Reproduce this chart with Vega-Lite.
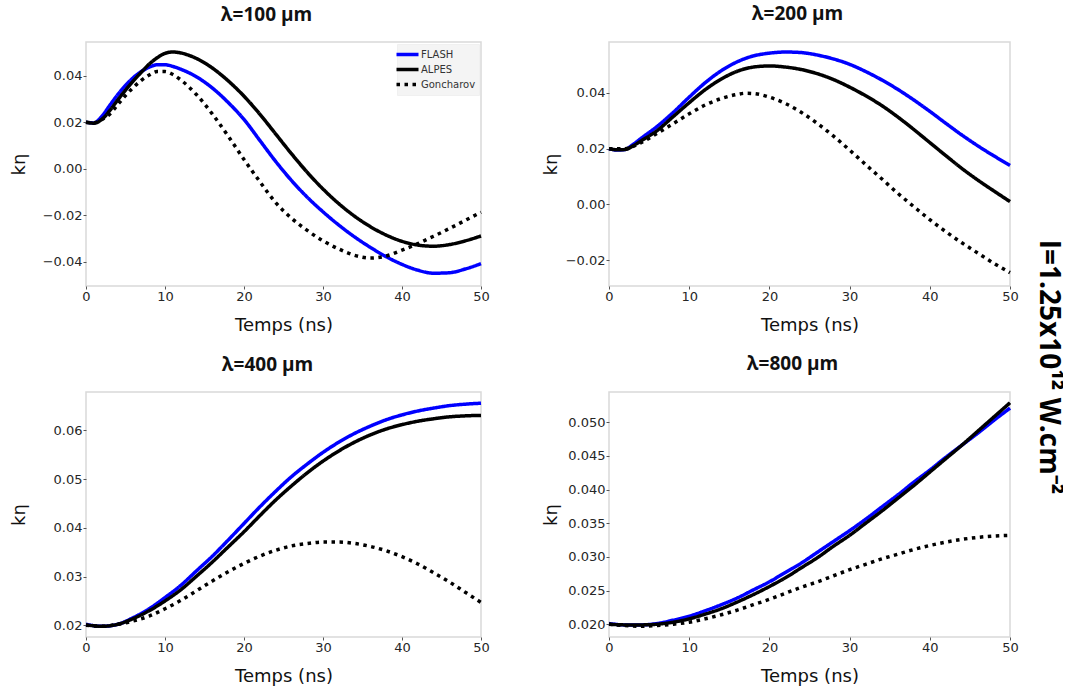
{
"$schema": "https://vega.github.io/schema/vega-lite/v6.json",
"background": "white",
"padding": {"left": 9, "top": 4, "right": 0, "bottom": 0},
"title": {"text": "I=1.25x10¹² W.cm⁻²", "orient": "right", "anchor": "middle", "font": "Open Sans", "fontSize": 28, "fontWeight": "bold", "color": "#000000", "offset": 15, "dx": 22},
"datasets": {"d": [
{"p":1,"s":"FLASH","t":0,"k":0.0200},{"p":1,"s":"FLASH","t":1,"k":0.0197},{"p":1,"s":"FLASH","t":2,"k":0.0225},{"p":1,"s":"FLASH","t":3,"k":0.0272},{"p":1,"s":"FLASH","t":4,"k":0.0318},{"p":1,"s":"FLASH","t":5,"k":0.0358},{"p":1,"s":"FLASH","t":6,"k":0.0392},{"p":1,"s":"FLASH","t":7,"k":0.0418},{"p":1,"s":"FLASH","t":8,"k":0.0437},{"p":1,"s":"FLASH","t":9,"k":0.0447},{"p":1,"s":"FLASH","t":10,"k":0.0447},{"p":1,"s":"FLASH","t":11,"k":0.0440},{"p":1,"s":"FLASH","t":12,"k":0.0428},{"p":1,"s":"FLASH","t":14,"k":0.0395},{"p":1,"s":"FLASH","t":16,"k":0.0347},{"p":1,"s":"FLASH","t":18,"k":0.0285},{"p":1,"s":"FLASH","t":20,"k":0.0212},{"p":1,"s":"FLASH","t":22,"k":0.0122},{"p":1,"s":"FLASH","t":24,"k":0.0032},{"p":1,"s":"FLASH","t":26,"k":-0.0050},{"p":1,"s":"FLASH","t":28,"k":-0.0122},{"p":1,"s":"FLASH","t":30,"k":-0.0185},{"p":1,"s":"FLASH","t":32,"k":-0.0242},{"p":1,"s":"FLASH","t":34,"k":-0.0293},{"p":1,"s":"FLASH","t":36,"k":-0.0338},{"p":1,"s":"FLASH","t":38,"k":-0.0378},{"p":1,"s":"FLASH","t":40,"k":-0.0411},{"p":1,"s":"FLASH","t":42,"k":-0.0436},{"p":1,"s":"FLASH","t":44,"k":-0.0449},{"p":1,"s":"FLASH","t":46,"k":-0.0447},{"p":1,"s":"FLASH","t":48,"k":-0.0431},{"p":1,"s":"FLASH","t":50,"k":-0.0408},
{"p":1,"s":"ALPES","t":0,"k":0.0200},{"p":1,"s":"ALPES","t":1,"k":0.0196},{"p":1,"s":"ALPES","t":2,"k":0.0212},{"p":1,"s":"ALPES","t":3,"k":0.0250},{"p":1,"s":"ALPES","t":4,"k":0.0295},{"p":1,"s":"ALPES","t":5,"k":0.0338},{"p":1,"s":"ALPES","t":6,"k":0.0378},{"p":1,"s":"ALPES","t":7,"k":0.0415},{"p":1,"s":"ALPES","t":8,"k":0.0450},{"p":1,"s":"ALPES","t":9,"k":0.0477},{"p":1,"s":"ALPES","t":10,"k":0.0496},{"p":1,"s":"ALPES","t":11,"k":0.0502},{"p":1,"s":"ALPES","t":12,"k":0.0498},{"p":1,"s":"ALPES","t":13,"k":0.0488},{"p":1,"s":"ALPES","t":14,"k":0.0474},{"p":1,"s":"ALPES","t":16,"k":0.0433},{"p":1,"s":"ALPES","t":18,"k":0.0378},{"p":1,"s":"ALPES","t":20,"k":0.0312},{"p":1,"s":"ALPES","t":22,"k":0.0235},{"p":1,"s":"ALPES","t":24,"k":0.0150},{"p":1,"s":"ALPES","t":26,"k":0.0065},{"p":1,"s":"ALPES","t":28,"k":-0.0015},{"p":1,"s":"ALPES","t":30,"k":-0.0087},{"p":1,"s":"ALPES","t":32,"k":-0.0150},{"p":1,"s":"ALPES","t":34,"k":-0.0204},{"p":1,"s":"ALPES","t":36,"k":-0.0249},{"p":1,"s":"ALPES","t":38,"k":-0.0285},{"p":1,"s":"ALPES","t":40,"k":-0.0312},{"p":1,"s":"ALPES","t":42,"k":-0.0328},{"p":1,"s":"ALPES","t":44,"k":-0.0333},{"p":1,"s":"ALPES","t":46,"k":-0.0326},{"p":1,"s":"ALPES","t":48,"k":-0.0310},{"p":1,"s":"ALPES","t":50,"k":-0.0289},
{"p":1,"s":"Goncharov","t":0,"k":0.0200},{"p":1,"s":"Goncharov","t":1,"k":0.0198},{"p":1,"s":"Goncharov","t":2,"k":0.0212},{"p":1,"s":"Goncharov","t":3,"k":0.0235},{"p":1,"s":"Goncharov","t":4,"k":0.0275},{"p":1,"s":"Goncharov","t":5,"k":0.0315},{"p":1,"s":"Goncharov","t":6,"k":0.0350},{"p":1,"s":"Goncharov","t":7,"k":0.0380},{"p":1,"s":"Goncharov","t":8,"k":0.0403},{"p":1,"s":"Goncharov","t":9,"k":0.0418},{"p":1,"s":"Goncharov","t":10,"k":0.0418},{"p":1,"s":"Goncharov","t":11,"k":0.0405},{"p":1,"s":"Goncharov","t":12,"k":0.0382},{"p":1,"s":"Goncharov","t":14,"k":0.0318},{"p":1,"s":"Goncharov","t":16,"k":0.0235},{"p":1,"s":"Goncharov","t":18,"k":0.0140},{"p":1,"s":"Goncharov","t":20,"k":0.0040},{"p":1,"s":"Goncharov","t":22,"k":-0.0055},{"p":1,"s":"Goncharov","t":24,"k":-0.0145},{"p":1,"s":"Goncharov","t":26,"k":-0.0212},{"p":1,"s":"Goncharov","t":28,"k":-0.0265},{"p":1,"s":"Goncharov","t":30,"k":-0.0310},{"p":1,"s":"Goncharov","t":32,"k":-0.0345},{"p":1,"s":"Goncharov","t":34,"k":-0.0372},{"p":1,"s":"Goncharov","t":36,"k":-0.0384},{"p":1,"s":"Goncharov","t":38,"k":-0.0375},{"p":1,"s":"Goncharov","t":40,"k":-0.0350},{"p":1,"s":"Goncharov","t":42,"k":-0.0322},{"p":1,"s":"Goncharov","t":44,"k":-0.0290},{"p":1,"s":"Goncharov","t":46,"k":-0.0257},{"p":1,"s":"Goncharov","t":48,"k":-0.0222},{"p":1,"s":"Goncharov","t":50,"k":-0.0187},
{"p":2,"s":"FLASH","t":0,"k":0.0200},{"p":2,"s":"FLASH","t":1,"k":0.0195},{"p":2,"s":"FLASH","t":2,"k":0.0197},{"p":2,"s":"FLASH","t":3,"k":0.0215},{"p":2,"s":"FLASH","t":4,"k":0.0237},{"p":2,"s":"FLASH","t":6,"k":0.0280},{"p":2,"s":"FLASH","t":8,"k":0.0330},{"p":2,"s":"FLASH","t":10,"k":0.0385},{"p":2,"s":"FLASH","t":12,"k":0.0437},{"p":2,"s":"FLASH","t":14,"k":0.0480},{"p":2,"s":"FLASH","t":16,"k":0.0512},{"p":2,"s":"FLASH","t":18,"k":0.0533},{"p":2,"s":"FLASH","t":20,"k":0.0543},{"p":2,"s":"FLASH","t":22,"k":0.0547},{"p":2,"s":"FLASH","t":24,"k":0.0545},{"p":2,"s":"FLASH","t":26,"k":0.0536},{"p":2,"s":"FLASH","t":28,"k":0.0522},{"p":2,"s":"FLASH","t":30,"k":0.0503},{"p":2,"s":"FLASH","t":32,"k":0.0477},{"p":2,"s":"FLASH","t":34,"k":0.0447},{"p":2,"s":"FLASH","t":36,"k":0.0413},{"p":2,"s":"FLASH","t":38,"k":0.0375},{"p":2,"s":"FLASH","t":40,"k":0.0334},{"p":2,"s":"FLASH","t":42,"k":0.0291},{"p":2,"s":"FLASH","t":44,"k":0.0249},{"p":2,"s":"FLASH","t":46,"k":0.0210},{"p":2,"s":"FLASH","t":48,"k":0.0174},{"p":2,"s":"FLASH","t":50,"k":0.0140},
{"p":2,"s":"ALPES","t":0,"k":0.0200},{"p":2,"s":"ALPES","t":1,"k":0.0196},{"p":2,"s":"ALPES","t":2,"k":0.0197},{"p":2,"s":"ALPES","t":3,"k":0.0210},{"p":2,"s":"ALPES","t":4,"k":0.0228},{"p":2,"s":"ALPES","t":6,"k":0.0265},{"p":2,"s":"ALPES","t":8,"k":0.0315},{"p":2,"s":"ALPES","t":10,"k":0.0365},{"p":2,"s":"ALPES","t":12,"k":0.0412},{"p":2,"s":"ALPES","t":14,"k":0.0450},{"p":2,"s":"ALPES","t":16,"k":0.0478},{"p":2,"s":"ALPES","t":18,"k":0.0493},{"p":2,"s":"ALPES","t":20,"k":0.0497},{"p":2,"s":"ALPES","t":22,"k":0.0493},{"p":2,"s":"ALPES","t":24,"k":0.0484},{"p":2,"s":"ALPES","t":26,"k":0.0469},{"p":2,"s":"ALPES","t":28,"k":0.0448},{"p":2,"s":"ALPES","t":30,"k":0.0421},{"p":2,"s":"ALPES","t":32,"k":0.0390},{"p":2,"s":"ALPES","t":34,"k":0.0355},{"p":2,"s":"ALPES","t":36,"k":0.0314},{"p":2,"s":"ALPES","t":38,"k":0.0269},{"p":2,"s":"ALPES","t":40,"k":0.0222},{"p":2,"s":"ALPES","t":42,"k":0.0175},{"p":2,"s":"ALPES","t":44,"k":0.0129},{"p":2,"s":"ALPES","t":46,"k":0.0087},{"p":2,"s":"ALPES","t":48,"k":0.0048},{"p":2,"s":"ALPES","t":50,"k":0.0010},
{"p":2,"s":"Goncharov","t":0,"k":0.0200},{"p":2,"s":"Goncharov","t":2,"k":0.0200},{"p":2,"s":"Goncharov","t":4,"k":0.0222},{"p":2,"s":"Goncharov","t":6,"k":0.0255},{"p":2,"s":"Goncharov","t":8,"k":0.0290},{"p":2,"s":"Goncharov","t":10,"k":0.0325},{"p":2,"s":"Goncharov","t":12,"k":0.0357},{"p":2,"s":"Goncharov","t":14,"k":0.0380},{"p":2,"s":"Goncharov","t":16,"k":0.0395},{"p":2,"s":"Goncharov","t":17,"k":0.0399},{"p":2,"s":"Goncharov","t":18,"k":0.0398},{"p":2,"s":"Goncharov","t":20,"k":0.0385},{"p":2,"s":"Goncharov","t":22,"k":0.0362},{"p":2,"s":"Goncharov","t":24,"k":0.0330},{"p":2,"s":"Goncharov","t":26,"k":0.0290},{"p":2,"s":"Goncharov","t":28,"k":0.0245},{"p":2,"s":"Goncharov","t":30,"k":0.0195},{"p":2,"s":"Goncharov","t":32,"k":0.0143},{"p":2,"s":"Goncharov","t":34,"k":0.0092},{"p":2,"s":"Goncharov","t":36,"k":0.0040},{"p":2,"s":"Goncharov","t":38,"k":-0.0008},{"p":2,"s":"Goncharov","t":40,"k":-0.0055},{"p":2,"s":"Goncharov","t":42,"k":-0.0098},{"p":2,"s":"Goncharov","t":44,"k":-0.0138},{"p":2,"s":"Goncharov","t":46,"k":-0.0175},{"p":2,"s":"Goncharov","t":48,"k":-0.0212},{"p":2,"s":"Goncharov","t":50,"k":-0.0245},
{"p":3,"s":"FLASH","t":0,"k":0.0202},{"p":3,"s":"FLASH","t":2,"k":0.0198},{"p":3,"s":"FLASH","t":4,"k":0.0202},{"p":3,"s":"FLASH","t":6,"k":0.0216},{"p":3,"s":"FLASH","t":8,"k":0.0234},{"p":3,"s":"FLASH","t":10,"k":0.0257},{"p":3,"s":"FLASH","t":12,"k":0.0282},{"p":3,"s":"FLASH","t":14,"k":0.0312},{"p":3,"s":"FLASH","t":16,"k":0.0342},{"p":3,"s":"FLASH","t":18,"k":0.0375},{"p":3,"s":"FLASH","t":20,"k":0.0409},{"p":3,"s":"FLASH","t":22,"k":0.0443},{"p":3,"s":"FLASH","t":24,"k":0.0475},{"p":3,"s":"FLASH","t":26,"k":0.0505},{"p":3,"s":"FLASH","t":28,"k":0.0531},{"p":3,"s":"FLASH","t":30,"k":0.0555},{"p":3,"s":"FLASH","t":32,"k":0.0576},{"p":3,"s":"FLASH","t":34,"k":0.0594},{"p":3,"s":"FLASH","t":36,"k":0.0609},{"p":3,"s":"FLASH","t":38,"k":0.0622},{"p":3,"s":"FLASH","t":40,"k":0.0632},{"p":3,"s":"FLASH","t":42,"k":0.0640},{"p":3,"s":"FLASH","t":44,"k":0.0646},{"p":3,"s":"FLASH","t":46,"k":0.0651},{"p":3,"s":"FLASH","t":48,"k":0.0654},{"p":3,"s":"FLASH","t":50,"k":0.0656},
{"p":3,"s":"ALPES","t":0,"k":0.0201},{"p":3,"s":"ALPES","t":2,"k":0.0198},{"p":3,"s":"ALPES","t":4,"k":0.0202},{"p":3,"s":"ALPES","t":6,"k":0.0214},{"p":3,"s":"ALPES","t":8,"k":0.0230},{"p":3,"s":"ALPES","t":10,"k":0.0250},{"p":3,"s":"ALPES","t":12,"k":0.0273},{"p":3,"s":"ALPES","t":14,"k":0.0301},{"p":3,"s":"ALPES","t":16,"k":0.0330},{"p":3,"s":"ALPES","t":18,"k":0.0361},{"p":3,"s":"ALPES","t":20,"k":0.0392},{"p":3,"s":"ALPES","t":22,"k":0.0425},{"p":3,"s":"ALPES","t":24,"k":0.0457},{"p":3,"s":"ALPES","t":26,"k":0.0486},{"p":3,"s":"ALPES","t":28,"k":0.0513},{"p":3,"s":"ALPES","t":30,"k":0.0537},{"p":3,"s":"ALPES","t":32,"k":0.0558},{"p":3,"s":"ALPES","t":34,"k":0.0576},{"p":3,"s":"ALPES","t":36,"k":0.0591},{"p":3,"s":"ALPES","t":38,"k":0.0603},{"p":3,"s":"ALPES","t":40,"k":0.0612},{"p":3,"s":"ALPES","t":42,"k":0.0619},{"p":3,"s":"ALPES","t":44,"k":0.0624},{"p":3,"s":"ALPES","t":46,"k":0.0628},{"p":3,"s":"ALPES","t":48,"k":0.0630},{"p":3,"s":"ALPES","t":50,"k":0.0631},
{"p":3,"s":"Goncharov","t":0,"k":0.0200},{"p":3,"s":"Goncharov","t":2,"k":0.0198},{"p":3,"s":"Goncharov","t":4,"k":0.0202},{"p":3,"s":"Goncharov","t":6,"k":0.0209},{"p":3,"s":"Goncharov","t":8,"k":0.0219},{"p":3,"s":"Goncharov","t":10,"k":0.0234},{"p":3,"s":"Goncharov","t":12,"k":0.0251},{"p":3,"s":"Goncharov","t":14,"k":0.0271},{"p":3,"s":"Goncharov","t":16,"k":0.0291},{"p":3,"s":"Goncharov","t":18,"k":0.0310},{"p":3,"s":"Goncharov","t":20,"k":0.0327},{"p":3,"s":"Goncharov","t":22,"k":0.0342},{"p":3,"s":"Goncharov","t":24,"k":0.0354},{"p":3,"s":"Goncharov","t":26,"k":0.0363},{"p":3,"s":"Goncharov","t":28,"k":0.0368},{"p":3,"s":"Goncharov","t":30,"k":0.0371},{"p":3,"s":"Goncharov","t":32,"k":0.0371},{"p":3,"s":"Goncharov","t":34,"k":0.0368},{"p":3,"s":"Goncharov","t":36,"k":0.0362},{"p":3,"s":"Goncharov","t":38,"k":0.0353},{"p":3,"s":"Goncharov","t":40,"k":0.0341},{"p":3,"s":"Goncharov","t":42,"k":0.0326},{"p":3,"s":"Goncharov","t":44,"k":0.0308},{"p":3,"s":"Goncharov","t":46,"k":0.0289},{"p":3,"s":"Goncharov","t":48,"k":0.0268},{"p":3,"s":"Goncharov","t":50,"k":0.0247},
{"p":4,"s":"FLASH","t":0,"k":0.0201},{"p":4,"s":"FLASH","t":2,"k":0.0199},{"p":4,"s":"FLASH","t":4,"k":0.0199},{"p":4,"s":"FLASH","t":6,"k":0.0201},{"p":4,"s":"FLASH","t":8,"k":0.0206},{"p":4,"s":"FLASH","t":10,"k":0.0212},{"p":4,"s":"FLASH","t":12,"k":0.0220},{"p":4,"s":"FLASH","t":14,"k":0.0229},{"p":4,"s":"FLASH","t":16,"k":0.0239},{"p":4,"s":"FLASH","t":18,"k":0.0251},{"p":4,"s":"FLASH","t":20,"k":0.0263},{"p":4,"s":"FLASH","t":22,"k":0.0277},{"p":4,"s":"FLASH","t":24,"k":0.0291},{"p":4,"s":"FLASH","t":26,"k":0.0307},{"p":4,"s":"FLASH","t":28,"k":0.0323},{"p":4,"s":"FLASH","t":30,"k":0.0339},{"p":4,"s":"FLASH","t":32,"k":0.0356},{"p":4,"s":"FLASH","t":34,"k":0.0374},{"p":4,"s":"FLASH","t":36,"k":0.0392},{"p":4,"s":"FLASH","t":38,"k":0.0411},{"p":4,"s":"FLASH","t":40,"k":0.0429},{"p":4,"s":"FLASH","t":42,"k":0.0448},{"p":4,"s":"FLASH","t":44,"k":0.0466},{"p":4,"s":"FLASH","t":46,"k":0.0484},{"p":4,"s":"FLASH","t":48,"k":0.0503},{"p":4,"s":"FLASH","t":50,"k":0.0521},
{"p":4,"s":"ALPES","t":0,"k":0.0200},{"p":4,"s":"ALPES","t":2,"k":0.0199},{"p":4,"s":"ALPES","t":4,"k":0.0199},{"p":4,"s":"ALPES","t":6,"k":0.0200},{"p":4,"s":"ALPES","t":8,"k":0.0203},{"p":4,"s":"ALPES","t":10,"k":0.0208},{"p":4,"s":"ALPES","t":12,"k":0.0215},{"p":4,"s":"ALPES","t":14,"k":0.0223},{"p":4,"s":"ALPES","t":16,"k":0.0233},{"p":4,"s":"ALPES","t":18,"k":0.0244},{"p":4,"s":"ALPES","t":20,"k":0.0256},{"p":4,"s":"ALPES","t":22,"k":0.0269},{"p":4,"s":"ALPES","t":24,"k":0.0284},{"p":4,"s":"ALPES","t":26,"k":0.0299},{"p":4,"s":"ALPES","t":28,"k":0.0316},{"p":4,"s":"ALPES","t":30,"k":0.0332},{"p":4,"s":"ALPES","t":32,"k":0.0350},{"p":4,"s":"ALPES","t":34,"k":0.0368},{"p":4,"s":"ALPES","t":36,"k":0.0387},{"p":4,"s":"ALPES","t":38,"k":0.0406},{"p":4,"s":"ALPES","t":40,"k":0.0426},{"p":4,"s":"ALPES","t":42,"k":0.0446},{"p":4,"s":"ALPES","t":44,"k":0.0466},{"p":4,"s":"ALPES","t":46,"k":0.0487},{"p":4,"s":"ALPES","t":48,"k":0.0508},{"p":4,"s":"ALPES","t":50,"k":0.0529},
{"p":4,"s":"Goncharov","t":0,"k":0.0200},{"p":4,"s":"Goncharov","t":2,"k":0.0198},{"p":4,"s":"Goncharov","t":4,"k":0.0197},{"p":4,"s":"Goncharov","t":6,"k":0.0198},{"p":4,"s":"Goncharov","t":8,"k":0.0200},{"p":4,"s":"Goncharov","t":10,"k":0.0203},{"p":4,"s":"Goncharov","t":12,"k":0.0208},{"p":4,"s":"Goncharov","t":14,"k":0.0214},{"p":4,"s":"Goncharov","t":16,"k":0.0221},{"p":4,"s":"Goncharov","t":18,"k":0.0229},{"p":4,"s":"Goncharov","t":20,"k":0.0237},{"p":4,"s":"Goncharov","t":22,"k":0.0246},{"p":4,"s":"Goncharov","t":24,"k":0.0255},{"p":4,"s":"Goncharov","t":26,"k":0.0263},{"p":4,"s":"Goncharov","t":28,"k":0.0272},{"p":4,"s":"Goncharov","t":30,"k":0.0281},{"p":4,"s":"Goncharov","t":32,"k":0.0289},{"p":4,"s":"Goncharov","t":34,"k":0.0297},{"p":4,"s":"Goncharov","t":36,"k":0.0304},{"p":4,"s":"Goncharov","t":38,"k":0.0311},{"p":4,"s":"Goncharov","t":40,"k":0.0317},{"p":4,"s":"Goncharov","t":42,"k":0.0322},{"p":4,"s":"Goncharov","t":44,"k":0.0326},{"p":4,"s":"Goncharov","t":46,"k":0.0329},{"p":4,"s":"Goncharov","t":48,"k":0.0331},{"p":4,"s":"Goncharov","t":50,"k":0.0332}
]},
"columns": 2,
"align": "each",
"spacing": {"row": 19, "column": 50},
"resolve": {"legend": {"color": "independent", "strokeDash": "independent"}},
"concat": [
{"width": 395, "height": 244, "data": {"name": "d"},
 "title": {"text": "λ=100 µm", "dx": -17, "offset": 17},
 "transform": [{"filter": "datum.p == 1"}],
 "mark": {"type": "line", "strokeWidth": 3.5, "interpolate": "monotone", "strokeCap": "butt"},
 "encoding": {
  "x": {"field": "t", "type": "quantitative", "scale": {"domain": [0, 50], "nice": false}, "axis": {"values": [0, 10, 20, 30, 40, 50], "title": "Temps (ns)"}},
  "y": {"field": "k", "type": "quantitative", "scale": {"domain": [-0.0504, 0.0545], "nice": false, "zero": false}, "axis": {"values": [-0.04, -0.02, 0, 0.02, 0.04], "format": ".2f", "title": "kη", "titlePadding": 13}},
  "color": {"field": "s", "type": "nominal", "sort": ["FLASH", "ALPES", "Goncharov"], "scale": {"domain": ["FLASH", "ALPES", "Goncharov"], "range": ["#0000ff", "#000000", "#000000"]},
   "legend": {"title": null, "orient": "top-right", "offset": 2, "fillColor": "#f4f4f4", "strokeColor": "#f0f0f0", "padding": 3, "symbolType": "M-2,0H2", "symbolSize": 121, "symbolStrokeWidth": 3.5, "symbolFillColor": "transparent", "labelFont": "DejaVu Sans", "labelFontSize": 10, "labelColor": "#333333", "rowPadding": 0, "labelOffset": 6}},
  "strokeDash": {"field": "s", "type": "nominal", "sort": ["FLASH", "ALPES", "Goncharov"], "scale": {"domain": ["FLASH", "ALPES", "Goncharov"], "range": [[1, 0], [1, 0], [3.5, 4.5]]},
   "legend": {"title": null, "orient": "top-right", "offset": 2, "fillColor": "#f4f4f4", "strokeColor": "#f0f0f0", "padding": 3, "symbolType": "M-2,0H2", "symbolSize": 121, "symbolStrokeWidth": 3.5, "symbolFillColor": "transparent", "labelFont": "DejaVu Sans", "labelFontSize": 10, "labelColor": "#333333", "rowPadding": 0, "labelOffset": 6}}
 }},
{"width": 401, "height": 244, "data": {"name": "d"},
 "title": {"text": "λ=200 µm", "dx": -12, "offset": 18},
 "transform": [{"filter": "datum.p == 2"}],
 "mark": {"type": "line", "strokeWidth": 3.5, "interpolate": "monotone", "strokeCap": "butt"},
 "encoding": {
  "x": {"field": "t", "type": "quantitative", "scale": {"domain": [0, 50], "nice": false}, "axis": {"values": [0, 10, 20, 30, 40, 50], "title": "Temps (ns)"}},
  "y": {"field": "k", "type": "quantitative", "scale": {"domain": [-0.0293, 0.0583], "nice": false, "zero": false}, "axis": {"values": [-0.02, 0, 0.02, 0.04], "format": ".2f", "title": "kη", "titlePadding": 4}},
  "color": {"field": "s", "type": "nominal", "scale": {"domain": ["FLASH", "ALPES", "Goncharov"], "range": ["#0000ff", "#000000", "#000000"]}, "legend": null},
  "strokeDash": {"field": "s", "type": "nominal", "scale": {"domain": ["FLASH", "ALPES", "Goncharov"], "range": [[1, 0], [1, 0], [3.5, 4.5]]}, "legend": null}
 }},
{"width": 395, "height": 245, "data": {"name": "d"},
 "title": {"text": "λ=400 µm", "dx": -16, "offset": 17},
 "transform": [{"filter": "datum.p == 3"}],
 "mark": {"type": "line", "strokeWidth": 3.5, "interpolate": "monotone", "strokeCap": "butt"},
 "encoding": {
  "x": {"field": "t", "type": "quantitative", "scale": {"domain": [0, 50], "nice": false}, "axis": {"values": [0, 10, 20, 30, 40, 50], "title": "Temps (ns)"}},
  "y": {"field": "k", "type": "quantitative", "scale": {"domain": [0.0176, 0.0679], "nice": false, "zero": false}, "axis": {"values": [0.02, 0.03, 0.04, 0.05, 0.06], "format": ".2f", "title": "kη", "titlePadding": 13}},
  "color": {"field": "s", "type": "nominal", "scale": {"domain": ["FLASH", "ALPES", "Goncharov"], "range": ["#0000ff", "#000000", "#000000"]}, "legend": null},
  "strokeDash": {"field": "s", "type": "nominal", "scale": {"domain": ["FLASH", "ALPES", "Goncharov"], "range": [[1, 0], [1, 0], [3.5, 4.5]]}, "legend": null}
 }},
{"width": 401, "height": 245, "data": {"name": "d"},
 "title": {"text": "λ=800 µm", "dx": -17, "offset": 18},
 "transform": [{"filter": "datum.p == 4"}],
 "mark": {"type": "line", "strokeWidth": 3.5, "interpolate": "monotone", "strokeCap": "butt"},
 "encoding": {
  "x": {"field": "t", "type": "quantitative", "scale": {"domain": [0, 50], "nice": false}, "axis": {"values": [0, 10, 20, 30, 40, 50], "title": "Temps (ns)"}},
  "y": {"field": "k", "type": "quantitative", "scale": {"domain": [0.0181, 0.0545], "nice": false, "zero": false}, "axis": {"values": [0.02, 0.025, 0.03, 0.035, 0.04, 0.045, 0.05], "format": ".3f", "title": "kη", "titlePadding": 4}},
  "color": {"field": "s", "type": "nominal", "scale": {"domain": ["FLASH", "ALPES", "Goncharov"], "range": ["#0000ff", "#000000", "#000000"]}, "legend": null},
  "strokeDash": {"field": "s", "type": "nominal", "scale": {"domain": ["FLASH", "ALPES", "Goncharov"], "range": [[1, 0], [1, 0], [3.5, 4.5]]}, "legend": null}
 }}
],
"config": {
 "font": "DejaVu Sans",
 "view": {"stroke": "#d9d9d9", "strokeWidth": 1.5},
 "axis": {"domain": false, "grid": false, "ticks": true, "tickSize": 3, "tickColor": "#555555", "labelFont": "DejaVu Sans", "labelFontSize": 13, "labelColor": "#262626", "labelPadding": 1, "labelFlush": false, "titleFont": "DejaVu Sans", "titleFontSize": 18, "titleFontWeight": "normal", "titleColor": "#111111"},
 "axisX": {"titlePadding": 13, "labelOverlap": false},
 "axisY": {"minExtent": 45, "maxExtent": 45, "labelOverlap": false},
 "title": {"font": "Open Sans", "fontSize": 19, "fontWeight": "bold", "color": "#111111", "anchor": "middle", "baseline": "bottom"}
}
}
